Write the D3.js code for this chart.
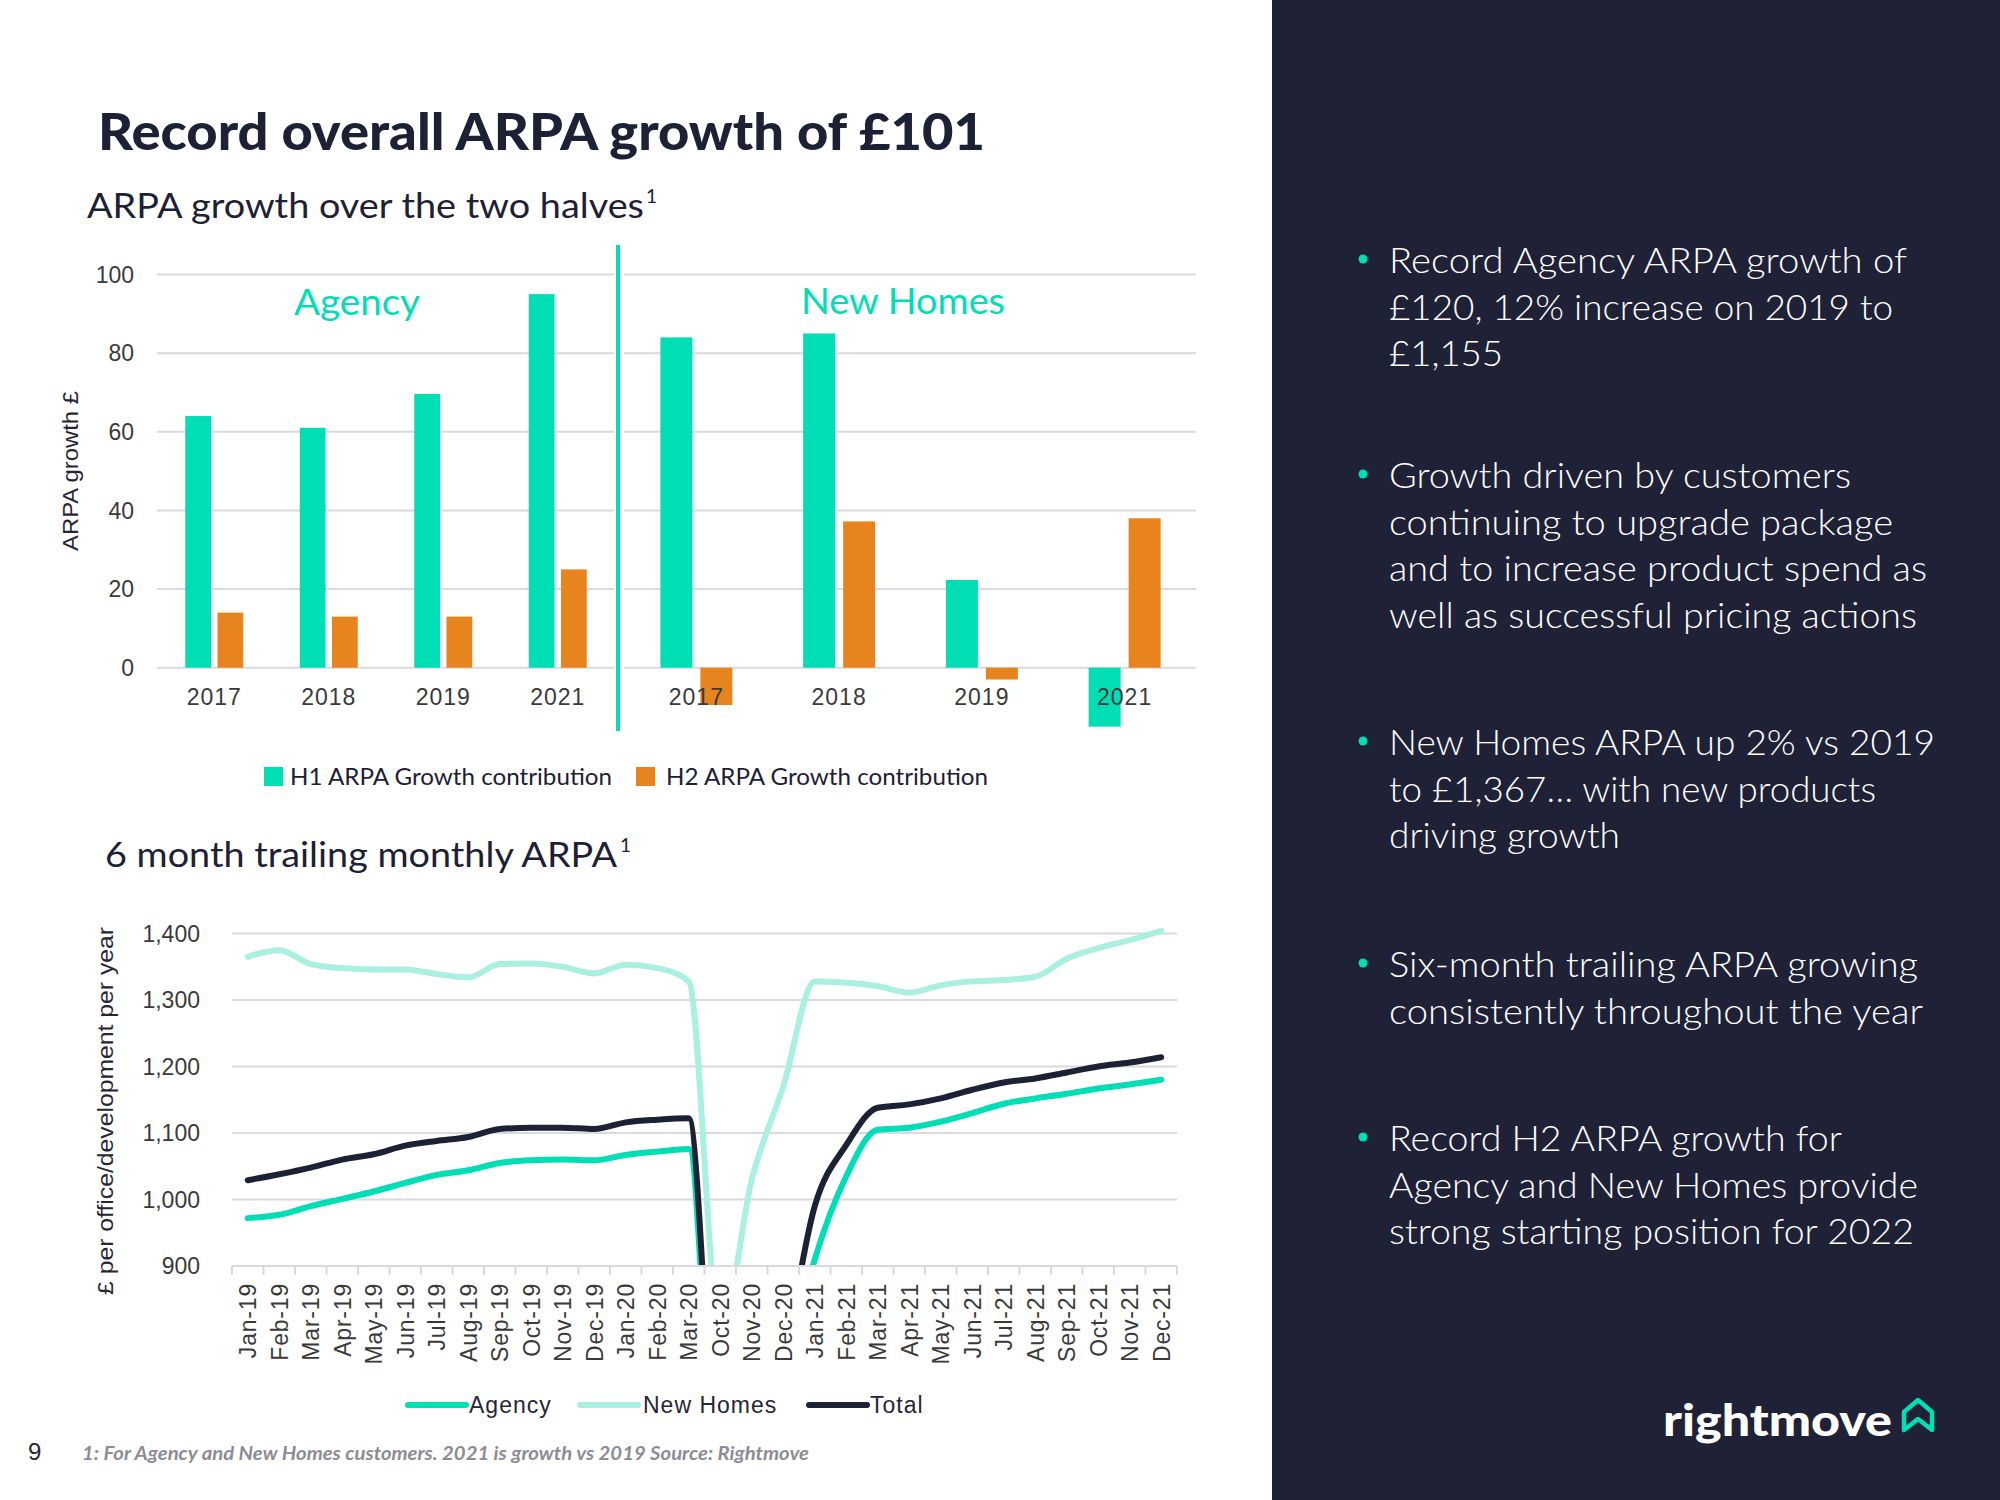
<!DOCTYPE html>
<html>
<head>
<meta charset="utf-8">
<script src="https://cdn.jsdelivr.net/npm/d3@7"></script>
<style>
  html, body { margin: 0; padding: 0; background: #ffffff; }
  svg { display: block; }
</style>
</head>
<body>
<svg id="chart" width="2000" height="1500"></svg>
<script>
// ---------------- DATA ----------------
const years = ["2017", "2018", "2019", "2021"];
const halves = ["H1 ARPA Growth contribution", "H2 ARPA Growth contribution"];
const agencyH1 = [64, 61, 69.6, 95];
const agencyH2 = [14, 13, 13, 25];
const newHomesH1 = [84, 85, 22.3, -15];
const newHomesH2 = [-9.5, 37.2, -3, 38];
const barTicks = [0, 20, 40, 60, 80, 100];

const months = ["Jan-19","Feb-19","Mar-19","Apr-19","May-19","Jun-19","Jul-19","Aug-19","Sep-19","Oct-19","Nov-19","Dec-19",
  "Jan-20","Feb-20","Mar-20","Oct-20","Nov-20","Dec-20",
  "Jan-21","Feb-21","Mar-21","Apr-21","May-21","Jun-21","Jul-21","Aug-21","Sep-21","Oct-21","Nov-21","Dec-21"];
const agencyArpa = [972, 977, 990, 1001, 1012, 1025, 1037, 1044, 1055, 1059, 1060, 1059,
  1067, 1072, 1076, 510, 560, 720,
  910, 1035, 1105, 1108, 1117, 1130, 1144, 1152, 1159, 1167, 1173, 1180];
const newHomesArpa = [1365, 1375, 1354, 1348, 1346, 1346, 1339, 1334, 1354, 1355, 1350, 1340,
  1353, 1348, 1328, 800, 1030, 1170,
  1328, 1326, 1321, 1311, 1322, 1328, 1330, 1335, 1362, 1378, 1390, 1404];
const totalArpa = [1029, 1038, 1048, 1060, 1068, 1081, 1088, 1094, 1106, 1108, 1108, 1106,
  1116, 1120, 1122, 560, 620, 760,
  990, 1082, 1138, 1143, 1152, 1165, 1176, 1182, 1191, 1200, 1206, 1214];
const lineTicks = [900, 1000, 1100, 1200, 1300, 1400];
const lineSeries = ["Agency", "New Homes", "Total"];

const bullets = [
  ["Record Agency ARPA growth of", "£120, 12% increase on 2019 to", "£1,155"],
  ["Growth driven by customers", "continuing to upgrade package", "and to increase product spend as", "well as successful pricing actions"],
  ["New Homes ARPA up 2% vs 2019", "to £1,367… with new products", "driving growth"],
  ["Six-month trailing ARPA growing", "consistently throughout the year"],
  ["Record H2 ARPA growth for", "Agency and New Homes provide", "strong starting position for 2022"]
];

// ---------------- STYLE / LAYOUT ----------------
const C = {
  teal: "#00deb6", orange: "#e8841d", light: "#aaf0e1", navy: "#1d2135",
  panel: "#1f2236", grid: "#d9d9df", text: "#262636", tick: "#3a3a3a"
};
const UI = "Lato, 'Open Sans', sans-serif";
const AX = "'Liberation Sans', Arial, sans-serif";

const svg = d3.select("#chart");
function fit(sel, w) { sel.attr("textLength", w).attr("lengthAdjust", "spacingAndGlyphs"); return sel; }

// right panel
svg.append("rect").attr("x", 1272).attr("y", 0).attr("width", 728).attr("height", 1500).attr("fill", C.panel);

// Title
fit(svg.append("text").attr("x", 98).attr("y", 150).attr("font-family", UI).attr("font-weight", 900)
  .attr("font-size", 52).attr("fill", C.navy).text("Record overall ARPA growth of £101"), 887);

// Subtitle 1
fit(svg.append("text").attr("x", 87).attr("y", 218).attr("font-family", UI).attr("font-weight", 400)
  .attr("font-size", 34).attr("fill", C.navy).text("ARPA growth over the two halves"), 557);
svg.append("text").attr("x", 646).attr("y", 203).attr("font-family", UI).attr("font-size", 19).attr("fill", C.navy).text("1");

// ---------------- BAR CHART ----------------
const yB = d3.scaleLinear().domain([0, 100]).range([667.7, 274.5]);
const xAg = d3.scaleBand().domain(years).range([157, 615]);
const xNh = d3.scaleBand().domain(years).range([625, 1196]);
const inAg = d3.scaleBand().domain(halves).range([0, 58]).paddingInner(0.2);
const inNh = d3.scaleBand().domain(halves).range([0, 72]).paddingInner(0.2);

const gBar = svg.append("g");
[[157, 614], [624, 1196]].forEach(([a, b]) => {
  gBar.append("g").selectAll("line").data(barTicks).join("line")
    .attr("x1", a).attr("x2", b).attr("y1", d => yB(d)).attr("y2", d => yB(d))
    .attr("stroke", C.grid).attr("stroke-width", 2);
});
gBar.append("g").selectAll("text").data(barTicks).join("text")
  .attr("x", 134).attr("y", d => yB(d)).attr("dy", "0.36em").attr("text-anchor", "end")
  .attr("font-family", AX).attr("font-size", 23).attr("fill", C.tick).text(d => d);
fit(gBar.append("text").attr("transform", "translate(78,471) rotate(-90)").attr("text-anchor", "middle")
  .attr("font-family", AX).attr("font-size", 22).attr("fill", C.text).text("ARPA growth £"), 160);

function drawBars(xs, inner, h1, h2) {
  const rows = years.map((y, i) => ({ year: y, vals: [h1[i], h2[i]] }));
  const g = gBar.append("g");
  const grp = g.selectAll("g").data(rows).join("g")
    .attr("transform", d => `translate(${xs(d.year) + (xs.bandwidth() - inner.range()[1]) / 2},0)`);
  grp.selectAll("rect").data(d => d.vals.map((v, k) => ({ k, v }))).join("rect")
    .attr("x", d => inner(halves[d.k])).attr("width", inner.bandwidth())
    .attr("y", d => Math.min(yB(d.v), yB(0))).attr("height", d => Math.abs(yB(d.v) - yB(0)))
    .attr("fill", d => d.k === 0 ? C.teal : C.orange);
  g.selectAll("text.yr").data(years).join("text").attr("class", "yr")
    .attr("x", d => xs(d) + xs.bandwidth() / 2).attr("y", 705).attr("text-anchor", "middle")
    .attr("font-family", AX).attr("font-size", 23).attr("letter-spacing", 1).attr("fill", C.tick).text(d => d);
}
drawBars(xAg, inAg, agencyH1, agencyH2);
drawBars(xNh, inNh, newHomesH1, newHomesH2);

gBar.append("line").attr("x1", 618).attr("x2", 618).attr("y1", 245).attr("y2", 731)
  .attr("stroke", C.teal).attr("stroke-width", 4);
fit(gBar.append("text").attr("x", 294).attr("y", 315).attr("font-family", UI).attr("font-weight", 400)
  .attr("font-size", 37).attr("fill", C.teal).text("Agency"), 126);
fit(gBar.append("text").attr("x", 801).attr("y", 314).attr("font-family", UI).attr("font-weight", 400)
  .attr("font-size", 37).attr("fill", C.teal).text("New Homes"), 204);

const legB = gBar.append("g");
[[264, 290, C.teal, halves[0]], [636, 666, C.orange, halves[1]]].forEach(([sx, tx, col, label]) => {
  legB.append("rect").attr("x", sx).attr("y", 767).attr("width", 19).attr("height", 19).attr("fill", col);
  fit(legB.append("text").attr("x", tx).attr("y", 785).attr("font-family", UI).attr("font-size", 23)
    .attr("fill", C.navy).text(label), 322);
});

// Subtitle 2
fit(svg.append("text").attr("x", 105).attr("y", 867).attr("font-family", UI).attr("font-weight", 400)
  .attr("font-size", 34).attr("fill", C.navy).text("6 month trailing monthly ARPA"), 512);
svg.append("text").attr("x", 620).attr("y", 852).attr("font-family", UI).attr("font-size", 19).attr("fill", C.navy).text("1");

// ---------------- LINE CHART ----------------
const xM = d3.scaleBand().domain(months).range([232, 1177]);
const yM = d3.scaleLinear().domain([900, 1400]).range([1266, 933.5]);
const gL = svg.append("g");

gL.append("g").selectAll("line").data(lineTicks.slice(1)).join("line")
  .attr("x1", 232).attr("x2", 1177).attr("y1", d => yM(d)).attr("y2", d => yM(d))
  .attr("stroke", C.grid).attr("stroke-width", 2);
gL.append("g").selectAll("text").data(lineTicks).join("text")
  .attr("x", 200).attr("y", d => yM(d)).attr("dy", "0.36em").attr("text-anchor", "end")
  .attr("font-family", AX).attr("font-size", 23).attr("fill", C.tick).text(d => d3.format(",")(d));
fit(gL.append("text").attr("transform", "translate(113,1111) rotate(-90)").attr("text-anchor", "middle")
  .attr("font-family", AX).attr("font-size", 22).attr("fill", C.text)
  .text("£ per office/development per year"), 368);

svg.append("defs").append("clipPath").attr("id", "plotclip").append("rect")
  .attr("x", 225).attr("y", 900).attr("width", 965).attr("height", 366);

const seriesVals = { "Agency": agencyArpa, "New Homes": newHomesArpa, "Total": totalArpa };
const seriesCol = { "Agency": C.teal, "New Homes": C.light, "Total": C.navy };
const lineGen = d3.line().x((d, i) => xM(months[i]) + xM.bandwidth() / 2).y(d => yM(d)).curve(d3.curveMonotoneX);
gL.append("g").attr("clip-path", "url(#plotclip)").selectAll("path")
  .data(["New Homes", "Agency", "Total"]).join("path")
  .attr("d", s => lineGen(seriesVals[s])).attr("fill", "none").attr("stroke", s => seriesCol[s])
  .attr("stroke-width", 6).attr("stroke-linejoin", "round").attr("stroke-linecap", "round");

const xAxisG = gL.append("g").attr("transform", `translate(0,${yM(900)})`);
xAxisG.append("line").attr("x1", 232).attr("x2", 1177).attr("stroke", C.grid).attr("stroke-width", 2);
const tickPos = months.map(m => xM(m)).concat([xM.range()[1]]);
xAxisG.selectAll("line.tk").data(tickPos).join("line").attr("class", "tk")
  .attr("x1", d => d).attr("x2", d => d).attr("y1", 0).attr("y2", 9).attr("stroke", C.grid).attr("stroke-width", 2);
xAxisG.selectAll("text").data(months).join("text")
  .attr("transform", d => `translate(${xM(d) + xM.bandwidth() / 2},17) rotate(-90)`)
  .attr("text-anchor", "end").attr("dy", "0.36em")
  .attr("font-family", AX).attr("font-size", 23).attr("letter-spacing", 0.8).attr("fill", C.tick).text(d => d);

const legL = gL.append("g");
[[408, 466, 469, "Agency"], [580, 638, 643, "New Homes"], [809, 867, 870, "Total"]].forEach(([a, b, tx, s]) => {
  legL.append("line").attr("x1", a).attr("x2", b).attr("y1", 1405).attr("y2", 1405)
    .attr("stroke", seriesCol[s]).attr("stroke-width", 6).attr("stroke-linecap", "round");
  legL.append("text").attr("x", tx).attr("y", 1413).attr("font-family", AX).attr("font-size", 23)
    .attr("letter-spacing", 1).attr("fill", C.text).text(s);
});

svg.append("text").attr("x", 28).attr("y", 1460).attr("font-family", AX).attr("font-size", 24).attr("fill", C.text).text("9");
fit(svg.append("text").attr("x", 82).attr("y", 1460).attr("font-family", UI).attr("font-style", "italic")
  .attr("font-weight", 700).attr("font-size", 18).attr("fill", "#8c8c94")
  .text("1: For Agency and New Homes customers. 2021 is growth vs 2019 Source: Rightmove"), 727);

// ---------------- RIGHT PANEL TEXT ----------------
const bulletY = [273, 488, 755, 977, 1151];
const lineW = [[518, 504, 114], [462, 504, 538, 528], [546, 487, 231], [529, 534], [453, 529, 525]];
const gP = svg.append("g");
bullets.forEach((lines, bi) => {
  gP.append("circle").attr("cx", 1363).attr("cy", bulletY[bi] - 14).attr("r", 4.5).attr("fill", C.teal);
  lines.forEach((t, li) => {
    fit(gP.append("text").attr("x", 1389).attr("y", bulletY[bi] + li * 46.7).attr("font-family", UI)
      .attr("font-weight", 300).attr("font-size", 35).attr("fill", "#ffffff").text(t), lineW[bi][li]);
  });
});
fit(gP.append("text").attr("x", 1663).attr("y", 1436).attr("font-family", UI).attr("font-weight", 900)
  .attr("font-size", 44).attr("fill", "#ffffff").text("rightmove"), 229);
gP.append("path").attr("d", "M1904,1430 L1904,1412 L1918,1400 L1932,1412 L1932,1430 L1918,1419 Z")
  .attr("fill", "none").attr("stroke", C.teal).attr("stroke-width", 4.5).attr("stroke-linejoin", "round");
</script>
</body>
</html>
